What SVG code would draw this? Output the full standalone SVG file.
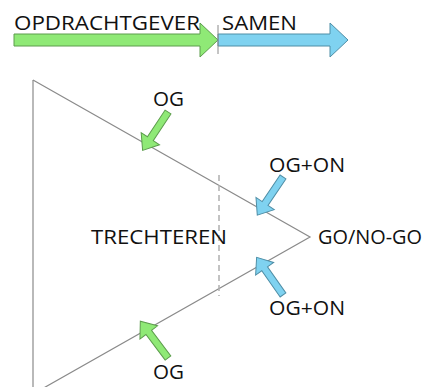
<svg xmlns="http://www.w3.org/2000/svg" width="430" height="387" viewBox="0 0 430 387">
  <style>
    .lbl { font-family: "Open Sans", "Liberation Sans", sans-serif; font-size: 20px; fill: #111111; }
    .green { fill: #8fe976; stroke: #5c9c4c; stroke-width: 1; }
    .blue { fill: #7fd2f0; stroke: #4f8ea6; stroke-width: 1; }
    .edge { fill: none; stroke: #8a8a8a; stroke-width: 1.2; }
    .dash { fill: none; stroke: #b0b0b0; stroke-width: 1.5; stroke-dasharray: 6 4; }
  </style>
  <defs>
    <!-- small block arrow, tail at origin, pointing along +x -->
    <polygon id="dart" points="0,-3.5 32,-3.5 32,-11 46,0 32,11 32,3.5 0,3.5"/>
  </defs>
  <rect width="430" height="387" fill="#ffffff"/>

  <!-- phase bar -->
  <g id="phase-opdrachtgever">
    <polygon class="green" points="14,34 200,34 200,23 218,40 200,57 200,46 14,46"/>
    <text class="lbl" x="14" y="30" textLength="186" lengthAdjust="spacingAndGlyphs">OPDRACHTGEVER</text>
  </g>
  <g id="phase-samen">
    <polygon class="blue" points="218,34 330,34 330,23 348,40 330,57 330,46 218,46"/>
    <text class="lbl" x="222" y="30" textLength="75" lengthAdjust="spacingAndGlyphs">SAMEN</text>
  </g>
  <line x1="218" y1="25" x2="218" y2="54" stroke="#8a8a8a" stroke-width="1"/>

  <!-- funnel -->
  <g id="funnel">
    <polyline class="edge" points="33,80 310,237 33,394"/>
    <line class="edge" x1="33" y1="80" x2="33" y2="387" stroke-width="1.5"/>
    <line class="dash" x1="219" y1="175" x2="219" y2="296"/>
    <text class="lbl" x="91" y="244" textLength="136" lengthAdjust="spacingAndGlyphs">TRECHTEREN</text>
  </g>

  <g id="outcome">
    <text class="lbl" x="318" y="244" textLength="104" lengthAdjust="spacingAndGlyphs">GO/NO-GO</text>
  </g>

  <!-- inputs -->
  <g id="connectors">
    <use href="#dart" class="green" transform="translate(168,112) rotate(123.5)"/>
    <use href="#dart" class="blue" transform="translate(283,177) rotate(124)"/>
    <use href="#dart" class="blue" transform="translate(283,295) rotate(-125)"/>
    <use href="#dart" class="green" transform="translate(168,358) rotate(-127)"/>
  </g>

  <g id="input-og-top">
    <text class="lbl" x="153" y="106" textLength="31" lengthAdjust="spacingAndGlyphs">OG</text>
  </g>
  <g id="input-ogon-top">
    <text class="lbl" x="269" y="172" textLength="76" lengthAdjust="spacingAndGlyphs">OG+ON</text>
  </g>
  <g id="input-ogon-bottom">
    <text class="lbl" x="269" y="315" textLength="76" lengthAdjust="spacingAndGlyphs">OG+ON</text>
  </g>
  <g id="input-og-bottom">
    <text class="lbl" x="153" y="379" textLength="31" lengthAdjust="spacingAndGlyphs">OG</text>
  </g>
</svg>
